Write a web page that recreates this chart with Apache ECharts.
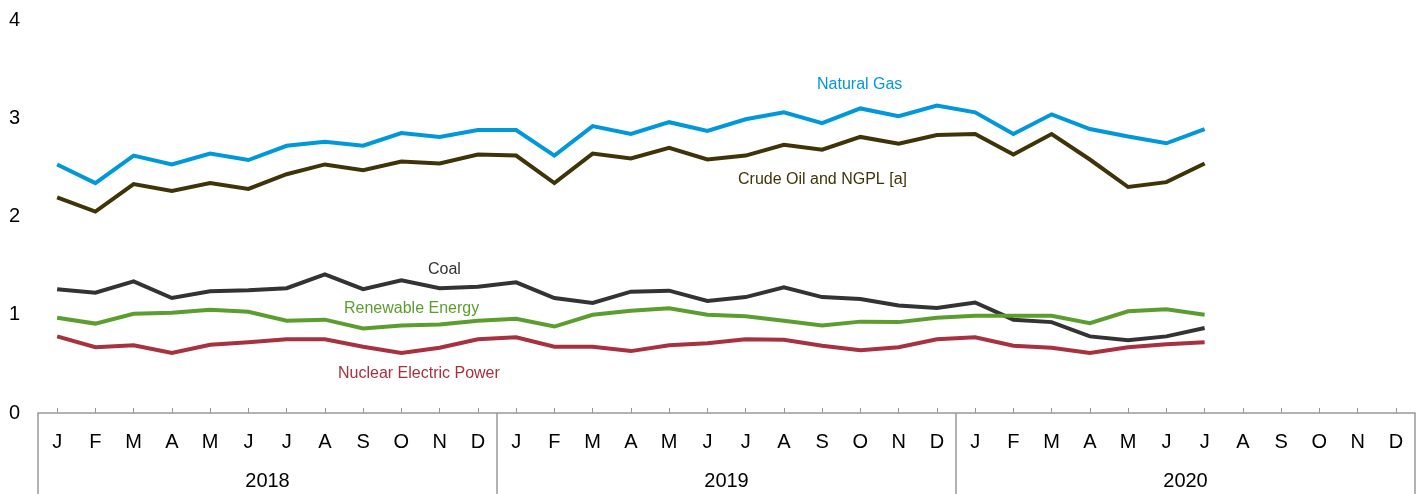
<!DOCTYPE html>
<html>
<head>
<meta charset="utf-8">
<script src="https://cdn.jsdelivr.net/npm/echarts@6/dist/echarts.min.js"></script>
<style>
html,body{margin:0;padding:0;background:#fff;}
#chart{width:1424px;height:494px;}
</style>
</head>
<body>
<div id="chart"></div>
<script>
const months = ['J','F','M','A','M','J','J','A','S','O','N','D',
                'J','F','M','A','M','J','J','A','S','O','N','D',
                'J','F','M','A','M','J','J','A','S','O','N','D'];
const years = ['2018','2019','2020'];
const yTicks = [0,1,2,3,4];

const naturalGas = [2.53,2.34,2.62,2.53,2.64,2.575,2.72,2.76,2.72,2.85,2.81,2.88,
                    2.88,2.62,2.92,2.84,2.96,2.87,2.99,3.06,2.95,3.10,3.02,3.13,
                    3.06,2.84,3.04,2.89,2.815,2.745,2.89];
const crudeOil   = [2.195,2.05,2.33,2.26,2.34,2.28,2.43,2.53,2.47,2.56,2.54,2.63,
                    2.62,2.34,2.64,2.59,2.70,2.58,2.62,2.73,2.68,2.81,2.74,2.83,
                    2.84,2.63,2.84,2.58,2.30,2.35,2.54];
const coal       = [1.26,1.225,1.34,1.17,1.24,1.25,1.27,1.41,1.26,1.35,1.27,1.285,
                    1.33,1.17,1.12,1.235,1.245,1.14,1.18,1.28,1.18,1.16,1.095,1.07,
                    1.125,0.95,0.925,0.78,0.74,0.78,0.865];
const renewable  = [0.97,0.91,1.01,1.02,1.05,1.03,0.94,0.95,0.86,0.89,0.90,0.94,
                    0.96,0.88,1.00,1.04,1.065,1.00,0.985,0.94,0.89,0.93,0.925,0.97,
                    0.99,0.99,0.99,0.915,1.035,1.055,1.00];
const nuclear    = [0.78,0.67,0.69,0.61,0.695,0.72,0.75,0.75,0.675,0.61,0.665,0.75,
                    0.77,0.675,0.675,0.63,0.69,0.71,0.75,0.745,0.685,0.64,0.67,0.75,
                    0.77,0.685,0.665,0.61,0.67,0.70,0.72];

const FONT = '"Liberation Sans", Arial, sans-serif';
const colors = {
  gas:'#0098d8', oil:'#3f3409', coal:'#333333', ren:'#5b9e2f', nuc:'#a7313f'
};

const chart = echarts.init(document.getElementById('chart'), null, {renderer:'canvas'});

function line(name, data, color){
  return {name, type:'line', data, xAxisIndex:0, yAxisIndex:0,
    showSymbol:false, symbol:'none', animation:false,
    lineStyle:{color, width:4, join:'miter'}, itemStyle:{color}};
}

function label(text, x, y, color){
  return {type:'text', left:x, top:y, style:{text, fill:color, font:'16px ' + FONT}};
}

chart.setOption({
  animation:false,
  grid:{left:38, right:9, top:20, bottom:81, containLabel:false},
  xAxis:[
    {type:'category', data:months, boundaryGap:true, position:'bottom',
     axisLine:{show:true, lineStyle:{color:'#999', width:1.5}},
     axisTick:{show:true, inside:true, length:5, alignWithLabel:true, lineStyle:{color:'#999'}},
     axisLabel:{color:'#000', fontSize:20, fontFamily:FONT, margin:19, interval:0},
     splitLine:{show:false}},
    {type:'category', data:years, boundaryGap:true, position:'bottom',
     axisLine:{show:false},
     axisTick:{show:true, inside:false, length:81, lineStyle:{color:'#999', width:1.5}},
     axisLabel:{color:'#000', fontSize:20, fontFamily:FONT, margin:58, interval:0},
     splitLine:{show:false}}
  ],
  yAxis:{type:'value', min:yTicks[0], max:yTicks[yTicks.length-1], interval:1,
    axisLine:{show:false}, axisTick:{show:false}, splitLine:{show:false},
    axisLabel:{color:'#000', fontSize:20, fontFamily:FONT, margin:18}},
  series:[
    line('Natural Gas', naturalGas, colors.gas),
    line('Crude Oil and NGPL [a]', crudeOil, colors.oil),
    line('Coal', coal, colors.coal),
    line('Renewable Energy', renewable, colors.ren),
    line('Nuclear Electric Power', nuclear, colors.nuc)
  ],
  graphic:[
    label('Natural Gas', 817, 77, colors.gas),
    label('Crude Oil and NGPL [a]', 738, 172, colors.oil),
    label('Coal', 428, 262, colors.coal),
    label('Renewable Energy', 344, 301, colors.ren),
    label('Nuclear Electric Power', 338, 366, colors.nuc)
  ]
});
</script>
</body>
</html>
